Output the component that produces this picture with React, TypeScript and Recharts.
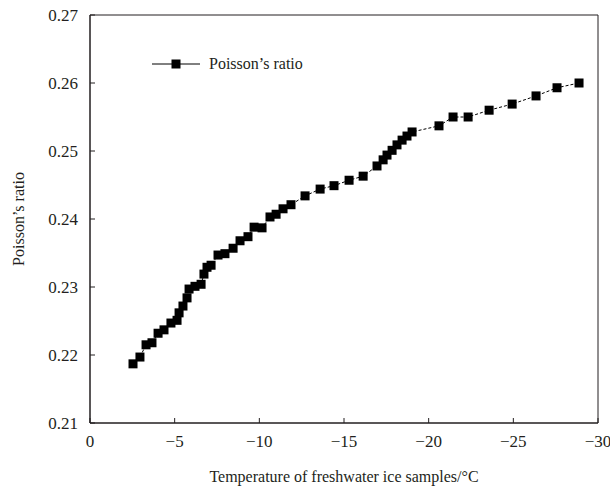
import React from "react";
import {
  LineChart,
  Line,
  XAxis,
  YAxis,
  Legend,
  ReferenceArea,
} from "recharts";

// temperatures of the ice samples (°C) and the measured Poisson's ratio
const temps = [
  -2.54, -2.95, -3.31, -3.66, -4.02, -4.37, -4.78, -5.14, -5.26, -5.49,
  -5.73, -5.85, -6.2, -6.56, -6.73, -6.91, -7.15, -7.56, -7.97, -8.45,
  -8.86, -9.33, -9.69, -10.16, -10.63, -10.99, -11.4, -11.87, -12.7, -13.59,
  -14.41, -15.3, -16.13, -16.95, -17.31, -17.54, -17.84, -18.13, -18.43, -18.72,
  -19.02, -20.61, -21.44, -22.33, -23.57, -24.93, -26.34, -27.58, -28.88,
];
const ratios = [
  0.2187, 0.2197, 0.2215, 0.2218, 0.2232, 0.2237, 0.2247, 0.2251, 0.2262, 0.2272,
  0.2284, 0.2297, 0.2301, 0.2304, 0.2319, 0.2329, 0.2332, 0.2347, 0.2349, 0.2357,
  0.2368, 0.2374, 0.2388, 0.2387, 0.2403, 0.2407, 0.2415, 0.2421, 0.2434, 0.2444,
  0.2449, 0.2457, 0.2463, 0.2478, 0.2487, 0.2494, 0.2501, 0.2509, 0.2516, 0.2522,
  0.2528, 0.2537, 0.255, 0.255, 0.256, 0.2569, 0.2581, 0.2593, 0.26,
];
const xTicks = [0, -5, -10, -15, -20, -25, -30];
const yTicks = [0.21, 0.22, 0.23, 0.24, 0.25, 0.26, 0.27];

const data = temps.map((t, i) => ({ t, ratio: ratios[i] }));

const FONT = "'Liberation Serif', 'Times New Roman', serif";
const INK = "#231f20";

const fmtX = (v: number) => (v === 0 ? "0" : `\u2212${Math.abs(v)}`);

const XTick = ({ x, y, payload }: any) => (
  <g>
    <line x1={x} x2={x} y1={y - 12} y2={y - 17} stroke={INK} strokeWidth={1} />
    <text x={x} y={y} dy="0.71em" textAnchor="middle" fontFamily={FONT} fontSize={17} fill={INK}>
      {fmtX(payload.value)}
    </text>
  </g>
);

const YTick = ({ x, y, payload }: any) => (
  <g>
    <line x1={x + 12} x2={x + 17} y1={y} y2={y} stroke={INK} strokeWidth={1} />
    <text x={x} y={y} dy="0.35em" textAnchor="end" fontFamily={FONT} fontSize={17} fill={INK}>
      {payload.value.toFixed(2)}
    </text>
  </g>
);

const Square = ({ cx, cy }: any) => {
  if (cx == null || cy == null) return null;
  return <rect x={cx - 4.5} y={cy - 4.5} width={9} height={9} fill="#000" />;
};

const LegendBox = () => (
  <div style={{ display: "flex", alignItems: "center", fontFamily: FONT, fontSize: 16, color: INK }}>
    <svg width={50} height={12}>
      <line x1={0} x2={48} y1={6} y2={6} stroke="#000" strokeWidth={1} />
      <rect x={19.5} y={1.5} width={9} height={9} fill="#000" />
    </svg>
    <span style={{ marginLeft: 7 }}>Poisson’s ratio</span>
  </div>
);

export default function App() {
  return (
    <div style={{ position: "absolute", left: 0, top: 0, background: "#fff" }}>
      <LineChart
        width={610}
        height={490}
        data={data}
        margin={{ top: 15, right: 12, bottom: 0, left: 0 }}
      >
        <XAxis
          type="number"
          dataKey="t"
          domain={[-30, 0]}
          reversed
          ticks={xTicks}
          interval={0}
          height={67}
          tickSize={0}
          tickMargin={12}
          tick={<XTick />}
          axisLine={{ stroke: INK }}
          label={{
            value: "Temperature of freshwater ice samples/°C",
            position: "insideBottom",
            offset: 8,
            style: { fontFamily: FONT, fontSize: 16, fill: INK },
          }}
        />
        <YAxis
          type="number"
          domain={[0.21, 0.27]}
          ticks={yTicks}
          interval={0}
          width={90}
          tickSize={0}
          tickMargin={12}
          tick={<YTick />}
          axisLine={{ stroke: INK }}
          label={{
            value: "Poisson’s ratio",
            angle: -90,
            position: "insideLeft",
            offset: 18,
            style: { textAnchor: "middle", fontFamily: FONT, fontSize: 16, fill: INK },
          }}
        />
        <ReferenceArea x1={0} x2={-30} y1={0.21} y2={0.27} fill="none" stroke={INK} strokeWidth={1} />
        <Legend
          layout="horizontal"
          verticalAlign="middle"
          align="center"
          content={() => <LegendBox />}
          wrapperStyle={{ position: "absolute", left: 152, top: 55, width: "auto", height: "auto" }}
        />
        <Line
          dataKey="ratio"
          type="linear"
          stroke="#000"
          strokeWidth={1}
          strokeDasharray="3 2"
          dot={<Square />}
          activeDot={false}
          isAnimationActive={false}
        />
      </LineChart>
    </div>
  );
}
